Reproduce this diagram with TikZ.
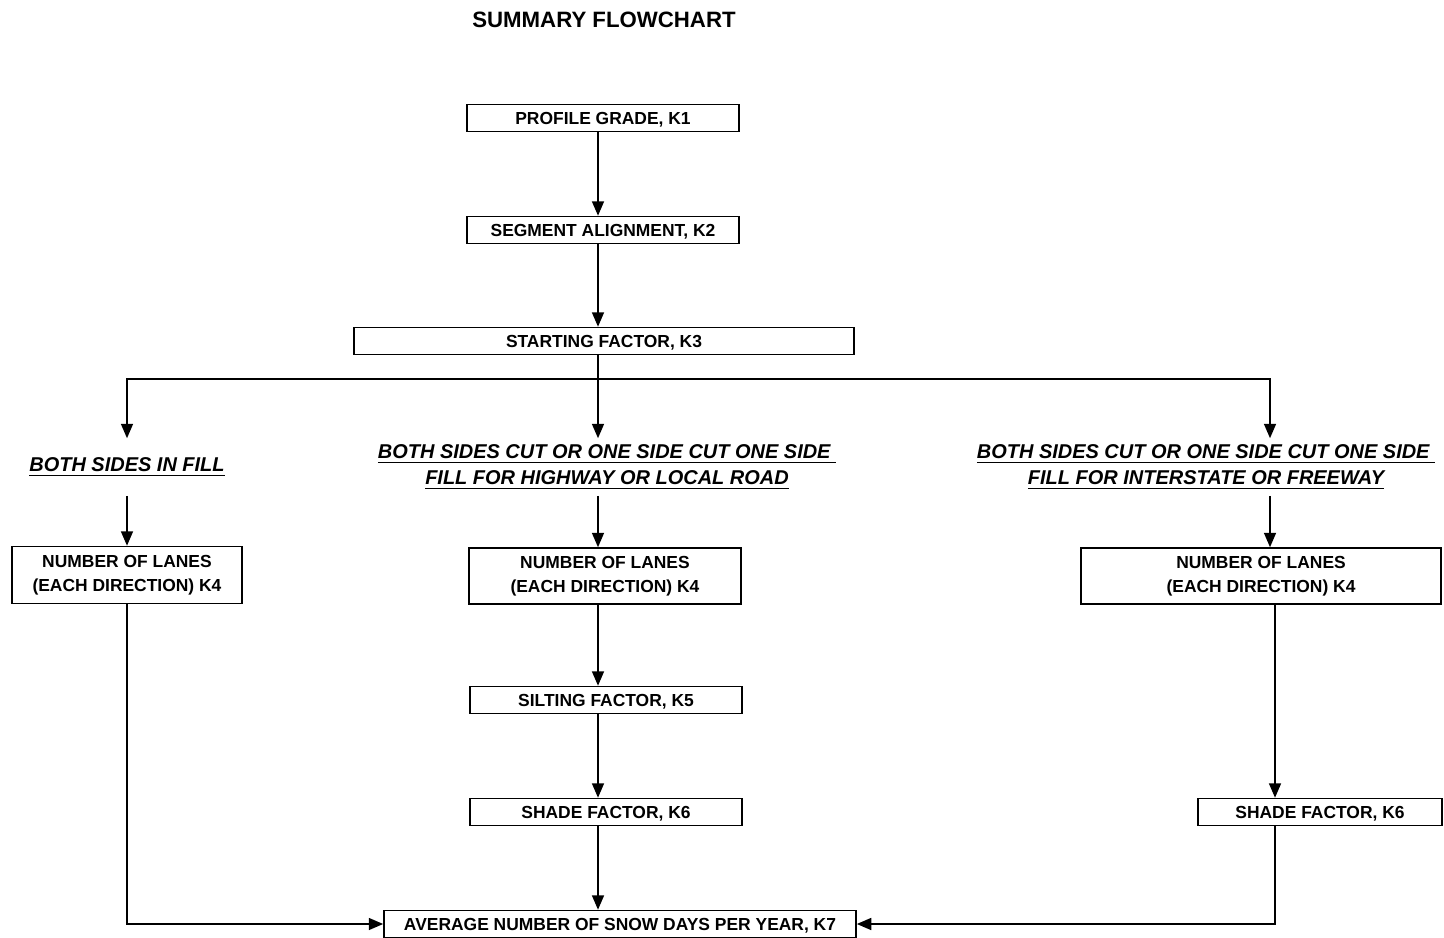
\documentclass[tikz,border=0pt]{standalone}
\usepackage{fontspec}
\setmainfont{Liberation Sans}
\usetikzlibrary{arrows.meta,positioning,calc}

% thick underline for the case labels
\newcommand{\caseul}[1]{\leavevmode\setbox0=\hbox{#1}\rlap{\rule[-3pt]{\wd0}{1.1pt}}\box0}

\begin{document}
\begin{tikzpicture}[x=0.025cm,y=-0.025cm,>={Triangle[length=0.36cm,width=0.3cm]},
  line width=1.1pt,
  box node/.style={draw,rectangle,inner sep=0pt,minimum height=0.675cm,align=center,
    font=\fontsize{12.4}{17}\selectfont\bfseries},
  line box/.style={box node,text height=8.9pt,text depth=0pt},
  case node/.style={inner sep=0pt,minimum height=1.4cm,align=center,
    font=\fontsize{14.2}{18.5}\selectfont\bfseries\itshape}]

  \useasboundingbox (0,0) rectangle (1444,938);

  \node[font=\fontsize{15.8}{18}\selectfont\bfseries] (title) at (604,20) {SUMMARY FLOWCHART};

  % main column
  \node[line box,minimum width=6.8cm] (k1) at (603,118) {PROFILE GRADE, K1};
  \node[line box,minimum width=6.8cm] (k2) at (603,230) {SEGMENT ALIGNMENT, K2};
  \node[line box,minimum width=12.5cm] (k3) at (604,341) {STARTING FACTOR, K3};

  % cases
  \node[case node] (leftcase) at (127,467) {\caseul{BOTH SIDES IN FILL}};
  \node[case node] (midcase) at (607,467)
    {\caseul{BOTH SIDES CUT OR ONE SIDE CUT ONE SIDE }\\\caseul{FILL FOR HIGHWAY OR LOCAL ROAD}};
  \node[case node] (rightcase) at (1206,467)
    {\caseul{BOTH SIDES CUT OR ONE SIDE CUT ONE SIDE }\\\caseul{FILL FOR INTERSTATE OR FREEWAY}};

  \node[box node,minimum width=5.75cm,minimum height=1.425cm] (k4l) at (127,575) {NUMBER OF LANES\\(EACH DIRECTION) K4};
  \node[box node,minimum width=6.8cm,minimum height=1.4cm] (k4m) at (605,576) {NUMBER OF LANES\\(EACH DIRECTION) K4};
  \node[box node,minimum width=9.0cm,minimum height=1.4cm] (k4r) at (1261,576) {NUMBER OF LANES\\(EACH DIRECTION) K4};

  \node[line box,minimum width=6.8cm] (k5) at (606,700) {SILTING FACTOR, K5};
  \node[line box,minimum width=6.8cm] (k6m) at (606,812) {SHADE FACTOR, K6};
  \node[line box,minimum width=6.1cm] (k6r) at (1320,812) {SHADE FACTOR, K6};

  \node[line box,minimum width=11.8cm] (k7) at (620,924) {AVERAGE NUMBER OF SNOW DAYS PER YEAR, K7};

  % connector lines
  \coordinate (mline) at (598,0);
  \coordinate (bus) at (598,379);
  \coordinate (rtop) at (1270,0);
  \coordinate (rlow) at (1275,0);

  \draw[->] (k1.south -| mline) -- (k2.north -| mline);
  \draw[->] (k2.south -| mline) -- (k3.north -| mline);
  \draw[->] (k3.south -| mline) -- (midcase.north -| mline);
  \draw[->] (bus) -| (leftcase.north);
  \draw[->] (bus) -| (rightcase.north -| rtop);

  \draw[->] (leftcase.south) -- (k4l.north);
  \draw[->] (midcase.south -| mline) -- (k4m.north -| mline);
  \draw[->] (rightcase.south -| rtop) -- (k4r.north -| rtop);

  \draw[->] (k4m.south -| mline) -- (k5.north -| mline);
  \draw[->] (k5.south -| mline) -- (k6m.north -| mline);
  \draw[->] (k6m.south -| mline) -- (k7.north -| mline);
  \draw[->] (k4r.south -| rlow) -- (k6r.north -| rlow);

  \draw[->] (k4l.south) |- (k7.west);
  \draw[->] (k6r.south -| rlow) |- (k7.east);
\end{tikzpicture}
\end{document}
